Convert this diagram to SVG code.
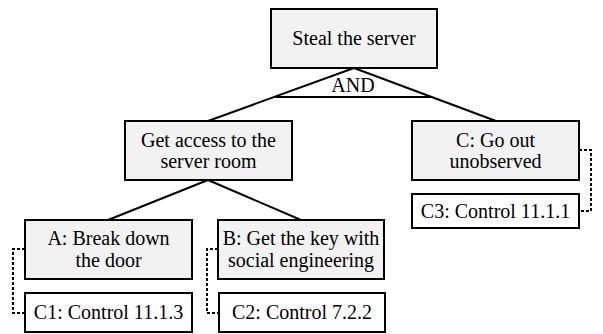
<svg xmlns="http://www.w3.org/2000/svg" width="603" height="334" viewBox="0 0 603 334">
  <style>
    .goal { fill: #f2f2f2; stroke: #000; stroke-width: 2; }
    .ctrl { fill: #fff; stroke: #000; stroke-width: 2; }
    .lbl { font-family: 'Liberation Serif', 'Times New Roman', Times, 'DejaVu Serif', serif; font-size: 20px; fill: #000; text-anchor: middle; }
    .edge { fill: none; stroke: #000; stroke-width: 2; }
    .dot { fill: none; stroke: #000; stroke-width: 2; stroke-dasharray: 3 2; }
  </style>
  <rect width="603" height="334" fill="#fff"/>

  <!-- tree edges and control links -->
  <g id="connectors">
    <line class="edge" x1="354" y1="68" x2="208" y2="121"/>
    <line class="edge" x1="354" y1="68" x2="496" y2="121"/>
    <line class="edge" x1="275" y1="97" x2="432" y2="97"/>
    <text class="lbl" x="353" y="92" font-family="Liberation Serif, serif">AND</text>
    <line class="edge" x1="208" y1="180" x2="108" y2="220"/>
    <line class="edge" x1="208" y1="180" x2="301" y2="220"/>
    <polyline class="dot" points="25,249 13,249 13,313 25,313"/>
    <polyline class="dot" points="218,249 207,249 207,313 219,313"/>
    <polyline class="dot" points="579,150 591,150 591,211 579,211"/>
  </g>

  <g id="steal">
    <rect class="goal" x="271" y="9" width="166" height="59"/>
    <text class="lbl" x="354" y="45">Steal the server</text>
  </g>

  <g id="access">
    <rect class="goal" x="125" y="121" width="167" height="59"/>
    <text class="lbl" x="208.5" y="147">Get access to the</text>
    <text class="lbl" x="208.5" y="168">server room</text>
  </g>

  <g id="go-out">
    <rect class="goal" x="412" y="121" width="167" height="59"/>
    <text class="lbl" x="495.5" y="147">C: Go out</text>
    <text class="lbl" x="495.5" y="168">unobserved</text>
  </g>

  <g id="break-door">
    <rect class="goal" x="25" y="220" width="167" height="59"/>
    <text class="lbl" x="108.5" y="245">A: Break down</text>
    <text class="lbl" x="108.5" y="267">the door</text>
  </g>

  <g id="get-key">
    <rect class="goal" x="218" y="220" width="166" height="59"/>
    <text class="lbl" x="301" y="245">B: Get the key with</text>
    <text class="lbl" x="301" y="267">social engineering</text>
  </g>

  <g id="c1">
    <rect class="ctrl" x="25" y="293" width="167" height="39"/>
    <text class="lbl" x="108.5" y="319">C1: Control 11.1.3</text>
  </g>

  <g id="c2">
    <rect class="ctrl" x="219" y="293" width="166" height="39"/>
    <text class="lbl" x="302" y="319">C2: Control 7.2.2</text>
  </g>

  <g id="c3">
    <rect class="ctrl" x="412" y="194" width="167" height="34"/>
    <text class="lbl" x="495.5" y="218">C3: Control 11.1.1</text>
  </g>
</svg>
